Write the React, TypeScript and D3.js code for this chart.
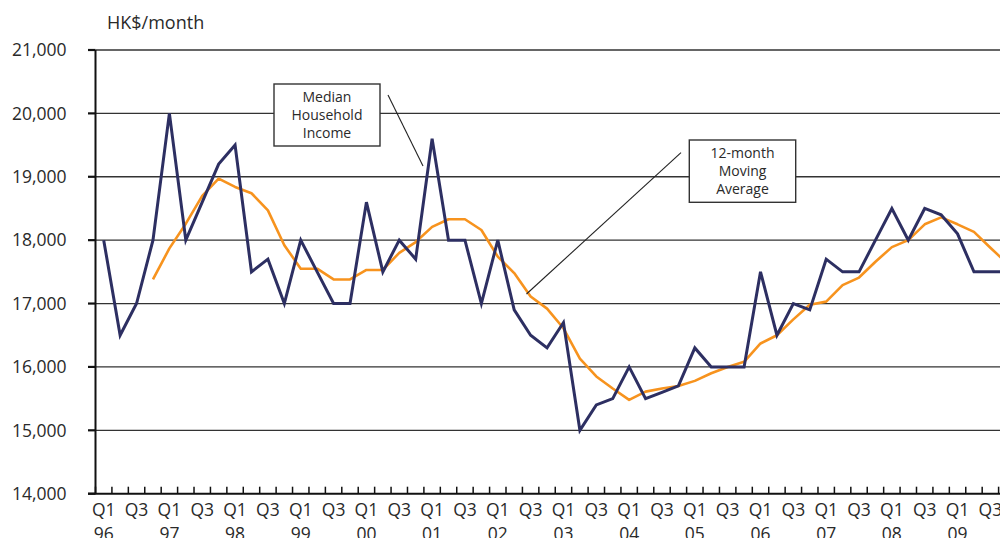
import React from "react";
import * as d3 from "d3";

// Quarter labels (Q1 1996 – Q4 2009)
const years = ["96", "97", "98", "99", "00", "01", "02", "03", "04", "05", "06", "07", "08", "09"];
const quarters = years.flatMap((y) => ["Q1", "Q2", "Q3", "Q4"].map((q) => `${q} ${y}`));

// Median monthly household income, HK$ (one value per quarter)
const medianIncome = [
  18000, 16500, 17000, 18000,
  20000, 18000, 18600, 19200,
  19500, 17500, 17700, 17000,
  18000, 17500, 17000, 17000,
  18600, 17500, 18000, 17700,
  19600, 18000, 18000, 17000,
  18000, 16900, 16500, 16300,
  16700, 15000, 15400, 15500,
  16000, 15500, 15600, 15700,
  16300, 16000, 16000, 16000,
  17500, 16500, 17000, 16900,
  17700, 17500, 17500, 18000,
  18500, 18000, 18500, 18400,
  18100, 17500, 17500, 17500,
];

// 12-month moving average, HK$ (starts at Q4 1996)
const movingAverage: (number | null)[] = [
  null, null, null, 17380,
  17870, 18260, 18700, 18970,
  18840, 18740, 18470, 17920,
  17550, 17550, 17380, 17380,
  17530, 17530, 17800, 17970,
  18210, 18330, 18330, 18160,
  17740, 17480, 17110, 16920,
  16610, 16130, 15850, 15660,
  15480, 15610, 15660, 15700,
  15780, 15900, 16000, 16080,
  16370, 16500, 16750, 16980,
  17030, 17290, 17410, 17660,
  17890, 18000, 18250, 18360,
  18250, 18130, 17880, 17640,
];

const yTicks = [14000, 15000, 16000, 17000, 18000, 19000, 20000, 21000];

const W = 1000;
const H = 538;
const FONT = "'Open Sans', 'DejaVu Sans', sans-serif";
const TEXT = "#2a2a2a";
const NAVY = "#2d2f62";
const ORANGE = "#f7931e";

export default function App() {
  const x0 = 95.5;
  const step = 16.42;
  const x = d3
    .scaleBand<string>()
    .domain(quarters)
    .range([x0, x0 + step * quarters.length])
    .paddingInner(0)
    .paddingOuter(0);
  const y = d3.scaleLinear().domain([14000, 21000]).range([493.7, 50]);

  const cx = (i: number) => (x(quarters[i]) as number) + x.bandwidth() / 2;

  const incomeLine = d3
    .line<number>()
    .x((_, i) => cx(i))
    .y((d) => y(d));

  const avgLine = d3
    .line<number | null>()
    .defined((d) => d !== null)
    .x((_, i) => cx(i))
    .y((d) => y(d as number));

  const plotRight = W;
  const boundaries = d3.range(quarters.length + 1).map((i) => x0 + i * step);

  return (
    <svg
      width={W}
      height={H}
      style={{ position: "absolute", left: 0, top: 0, background: "#fff" }}
      fontFamily={FONT}
    >
      <rect x={0} y={0} width={W} height={H} fill="#fff" />

      {/* unit label */}
      <text x={107} y={29} fontSize={18} fill={TEXT}>
        HK$/month
      </text>

      {/* horizontal gridlines and y ticks */}
      {yTicks.map((t) => (
        <g key={t}>
          {t > 14000 && (
            <line x1={x0} x2={plotRight} y1={y(t)} y2={y(t)} stroke="#333" strokeWidth={1.3} />
          )}
          <line x1={88} x2={x0} y1={y(t)} y2={y(t)} stroke="#111" strokeWidth={2.2} />
          <text
            x={66.5}
            y={y(t)}
            dy="0.36em"
            textAnchor="end"
            fontSize={17.5}
            fill={TEXT}
          >
            {d3.format(",")(t)}
          </text>
        </g>
      ))}

      {/* y axis */}
      <line x1={x0} x2={x0} y1={y(21000)} y2={y(14000)} stroke="#111" strokeWidth={2} />

      {/* x axis with inward quarter ticks */}
      <line x1={88} x2={plotRight + 20} y1={y(14000)} y2={y(14000)} stroke="#111" strokeWidth={2} />
      {boundaries.map((bx, i) => (
        <line key={i} x1={bx} x2={bx} y1={y(14000) - 7} y2={y(14000)} stroke="#111" strokeWidth={1.5} />
      ))}
      {quarters.map((q, i) => {
        const [qq, yy] = q.split(" ");
        if (qq !== "Q1" && qq !== "Q3") return null;
        return (
          <g key={q}>
            <text x={cx(i)} y={515.5} textAnchor="middle" fontSize={17.5} fill={TEXT}>
              {qq}
            </text>
            {qq === "Q1" && (
              <text x={cx(i)} y={540} textAnchor="middle" fontSize={17.5} fill={TEXT}>
                {yy}
              </text>
            )}
          </g>
        );
      })}

      {/* series */}
      <path d={avgLine(movingAverage) ?? ""} fill="none" stroke={ORANGE} strokeWidth={2.6} strokeLinejoin="round" />
      <path d={incomeLine(medianIncome) ?? ""} fill="none" stroke={NAVY} strokeWidth={3} strokeLinejoin="miter" />

      {/* callout: median household income */}
      <line x1={388} y1={95} x2={423} y2={166} stroke="#222" strokeWidth={1.1} />
      <rect x={274} y={84} width={106} height={62} fill="#fff" stroke="#333" strokeWidth={1.4} />
      {["Median", "Household", "Income"].map((s, i) => (
        <text key={s} x={327} y={102 + i * 18} textAnchor="middle" fontSize={14} fill={TEXT}>
          {s}
        </text>
      ))}

      {/* callout: moving average */}
      <line x1={681} y1={152.7} x2={526.5} y2={294} stroke="#222" strokeWidth={1.1} />
      <rect x={689.3} y={140} width={106.4} height={62.3} fill="#fff" stroke="#333" strokeWidth={1.4} />
      {["12-month", "Moving", "Average"].map((s, i) => (
        <text key={s} x={742.5} y={158.3 + i * 18} textAnchor="middle" fontSize={14} fill={TEXT}>
          {s}
        </text>
      ))}
    </svg>
  );
}
